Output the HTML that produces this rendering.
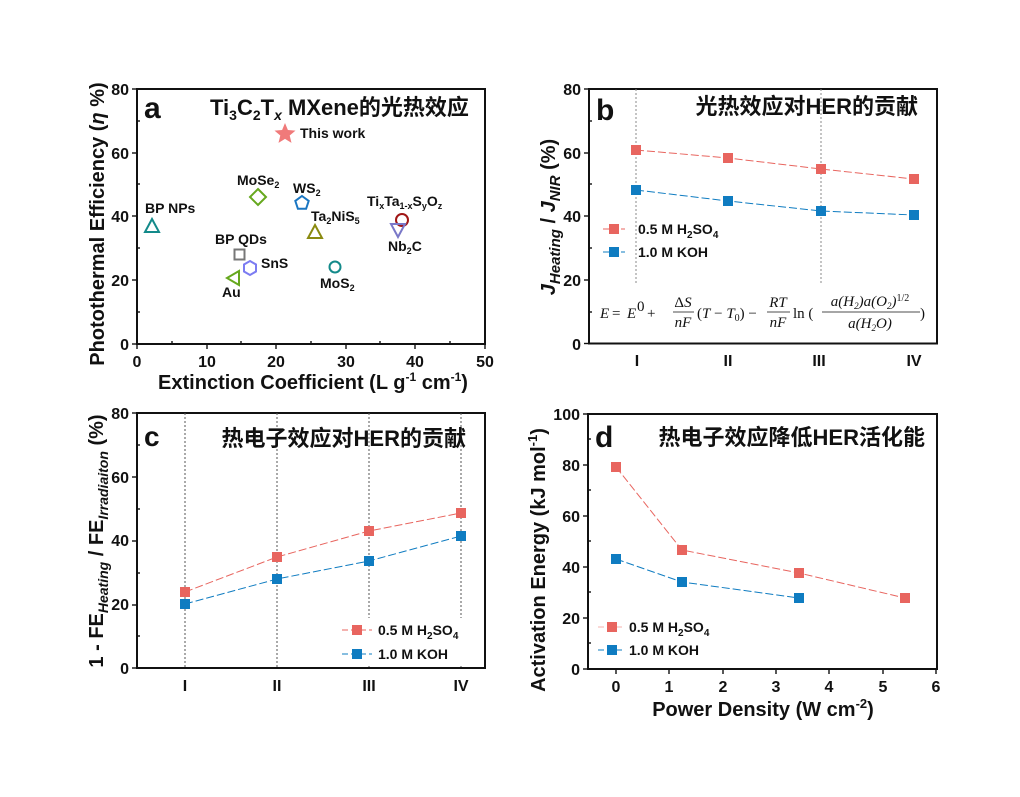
<!DOCTYPE html>
<html><head><meta charset="utf-8"><style>
html,body{margin:0;padding:0;background:#fff;}
svg{display:block;}
text{font-family:"Liberation Sans","Noto Sans CJK SC",sans-serif;font-weight:bold;fill:#111;}
.t{font-size:16px;}
.ax{font-size:20px;}
.ttl{font-size:22px;}
.lg{font-size:14px;}
.eq{font-family:"Liberation Serif",serif;font-weight:normal;font-style:italic;font-size:15px;}
.eqn{font-family:"Liberation Serif",serif;font-weight:normal;font-size:15px;}
</style></head><body>
<svg width="1020" height="797" viewBox="0 0 1020 797" xmlns="http://www.w3.org/2000/svg">
<rect width="1020" height="797" fill="#fff"/>

<!-- ================= Panel a ================= -->
<rect x="137" y="89" width="348" height="255" fill="none" stroke="#111" stroke-width="2"/>
<g stroke="#111" stroke-width="1.4">
<line x1="137" y1="344" x2="132" y2="344"/><line x1="137" y1="280" x2="132" y2="280"/><line x1="137" y1="216" x2="132" y2="216"/><line x1="137" y1="153" x2="132" y2="153"/><line x1="137" y1="89" x2="132" y2="89"/>
<line x1="137" y1="312" x2="140" y2="312"/><line x1="137" y1="248" x2="140" y2="248"/><line x1="137" y1="184" x2="140" y2="184"/><line x1="137" y1="121" x2="140" y2="121"/>
<line x1="137" y1="344" x2="137" y2="349"/><line x1="207" y1="344" x2="207" y2="349"/><line x1="276" y1="344" x2="276" y2="349"/><line x1="346" y1="344" x2="346" y2="349"/><line x1="415" y1="344" x2="415" y2="349"/><line x1="485" y1="344" x2="485" y2="349"/>
<line x1="172" y1="344" x2="172" y2="341"/><line x1="241" y1="344" x2="241" y2="341"/><line x1="311" y1="344" x2="311" y2="341"/><line x1="380" y1="344" x2="380" y2="341"/><line x1="450" y1="344" x2="450" y2="341"/>
</g>
<g class="t" text-anchor="end"><text x="129" y="350">0</text><text x="129" y="286">20</text><text x="129" y="222">40</text><text x="129" y="159">60</text><text x="129" y="95">80</text></g>
<g class="t" text-anchor="middle"><text x="137" y="367">0</text><text x="207" y="367">10</text><text x="276" y="367">20</text><text x="346" y="367">30</text><text x="415" y="367">40</text><text x="485" y="367">50</text></g>
<text class="ax" x="313" y="389" text-anchor="middle" font-size="21">Extinction Coefficient (L g<tspan dy="-8" font-size="12">-1</tspan><tspan dy="8"> cm</tspan><tspan dy="-8" font-size="12">-1</tspan><tspan dy="8">)</tspan></text>
<text class="ax" transform="translate(104,224) rotate(-90)" text-anchor="middle">Photothermal Efficiency (<tspan font-style="italic">η</tspan> %)</text>
<text x="144" y="118" font-size="30">a</text>
<text class="ttl" x="210" y="115">Ti<tspan font-size="14" dy="5">3</tspan><tspan dy="-5">C</tspan><tspan font-size="14" dy="5">2</tspan><tspan dy="-5">T</tspan><tspan font-size="14" dy="5" font-style="italic">x</tspan><tspan dy="-5"> MXene的光热效应</tspan></text>
<!-- markers -->
<polygon points="285,123 287.9,130 295.5,130.6 289.7,135.5 291.5,142.9 285,138.9 278.5,142.9 280.3,135.5 274.5,130.6 282.1,130" fill="#f07a7a"/>
<text class="lg" x="300" y="138" font-size="13">This work</text>
<polygon points="152,219 159,232 145,232" fill="none" stroke="#138a8a" stroke-width="2"/>
<text class="lg" x="145" y="213" font-size="13">BP NPs</text>
<polygon points="258,189 266,197 258,205 250,197" fill="none" stroke="#66a81e" stroke-width="2"/>
<text class="lg" x="237" y="185" font-size="13">MoSe<tspan font-size="9" dy="3">2</tspan></text>
<polygon points="302,196 308.7,200.9 306.1,208.8 297.9,208.8 295.3,200.9" fill="none" stroke="#1a76c2" stroke-width="2"/>
<text class="lg" x="293" y="193" font-size="13">WS<tspan font-size="9" dy="3">2</tspan></text>
<polygon points="315,225 322,238 308,238" fill="none" stroke="#8a8a10" stroke-width="2"/>
<text class="lg" x="311" y="221" font-size="13">Ta<tspan font-size="9" dy="3">2</tspan><tspan dy="-3">NiS</tspan><tspan font-size="9" dy="3">5</tspan></text>
<circle cx="402" cy="220" r="6" fill="none" stroke="#a01616" stroke-width="2"/>
<polygon points="391,224 405,224 398,237" fill="none" stroke="#7a78c8" stroke-width="2"/>
<text class="lg" x="367" y="206" font-size="13">Ti<tspan font-size="9" dy="3">x</tspan><tspan dy="-3">Ta</tspan><tspan font-size="9" dy="3">1-x</tspan><tspan dy="-3">S</tspan><tspan font-size="9" dy="3">y</tspan><tspan dy="-3">O</tspan><tspan font-size="9" dy="3">z</tspan></text>
<text class="lg" x="388" y="251" font-size="13">Nb<tspan font-size="9" dy="3">2</tspan><tspan dy="-3">C</tspan></text>
<rect x="234.5" y="249.5" width="10" height="10" fill="none" stroke="#777" stroke-width="2"/>
<text class="lg" x="215" y="244" font-size="13">BP QDs</text>
<polygon points="250,261 256,264.5 256,271.5 250,275 244,271.5 244,264.5" fill="none" stroke="#7c7cf2" stroke-width="2"/>
<text class="lg" x="261" y="268" font-size="13">SnS</text>
<polygon points="239,271 239,285 227,278" fill="none" stroke="#66a81e" stroke-width="2"/>
<text class="lg" x="222" y="297" font-size="13">Au</text>
<circle cx="335" cy="267" r="5.5" fill="none" stroke="#138a8a" stroke-width="2"/>
<text class="lg" x="320" y="288" font-size="13">MoS<tspan font-size="9" dy="3">2</tspan></text>

<!-- ================= Panel b ================= -->
<rect x="589" y="89" width="348" height="254.5" fill="none" stroke="#111" stroke-width="2"/>
<g stroke="#888" stroke-width="1" stroke-dasharray="2,2"><line x1="636" y1="89" x2="636" y2="283"/><line x1="821" y1="89" x2="821" y2="283"/></g>
<g stroke="#111" stroke-width="1.4">
<line x1="589" y1="343.5" x2="584" y2="343.5"/><line x1="589" y1="280" x2="584" y2="280"/><line x1="589" y1="216" x2="584" y2="216"/><line x1="589" y1="153" x2="584" y2="153"/><line x1="589" y1="89" x2="584" y2="89"/>
<line x1="589" y1="312" x2="592" y2="312"/><line x1="589" y1="248" x2="592" y2="248"/><line x1="589" y1="184" x2="592" y2="184"/><line x1="589" y1="121" x2="592" y2="121"/>
</g>
<g class="t" text-anchor="end"><text x="581" y="350">0</text><text x="581" y="286">20</text><text x="581" y="222">40</text><text x="581" y="159">60</text><text x="581" y="95">80</text></g>
<g class="t" text-anchor="middle"><text x="637" y="366">I</text><text x="728" y="366">II</text><text x="819" y="366">III</text><text x="914" y="366">IV</text></g>
<text class="ax" transform="translate(555,217) rotate(-90)" text-anchor="middle" font-size="22"><tspan font-style="italic">J</tspan><tspan font-style="italic" font-size="15" dy="5">Heating</tspan><tspan dy="-5"> / </tspan><tspan font-style="italic">J</tspan><tspan font-style="italic" font-size="15" dy="5">NIR</tspan><tspan dy="-5"> (%)</tspan></text>
<text x="596" y="120" font-size="30">b</text>
<text class="ttl" x="918" y="114" text-anchor="end" font-weight="normal">光热效应对<tspan font-weight="bold">HER</tspan>的贡献</text>
<polyline points="636,150 728,158 821,169 914,179" fill="none" stroke="#e8655f" stroke-width="1" stroke-dasharray="8,3"/>
<polyline points="636,190 728,201 821,211 914,215" fill="none" stroke="#0f7cc1" stroke-width="1" stroke-dasharray="8,3"/>
<g fill="#e8655f"><rect x="631" y="145" width="10" height="10"/><rect x="723" y="153" width="10" height="10"/><rect x="816" y="164" width="10" height="10"/><rect x="909" y="174" width="10" height="10"/></g>
<g fill="#0f7cc1"><rect x="631" y="185" width="10" height="10"/><rect x="723" y="196" width="10" height="10"/><rect x="816" y="206" width="10" height="10"/><rect x="909" y="210" width="10" height="10"/></g>
<line x1="603" y1="229" x2="625" y2="229" stroke="#e8655f" stroke-dasharray="6,3"/><rect x="609" y="224" width="10" height="10" fill="#e8655f"/>
<line x1="603" y1="252" x2="625" y2="252" stroke="#0f7cc1" stroke-dasharray="6,3"/><rect x="609" y="247" width="10" height="10" fill="#0f7cc1"/>
<text class="lg" x="638" y="234" font-size="15">0.5 M H<tspan font-size="10" dy="4">2</tspan><tspan dy="-4">SO</tspan><tspan font-size="10" dy="4">4</tspan></text>
<text class="lg" x="638" y="257" font-size="15">1.0 M KOH</text>
<!-- equation -->
<text class="eq" x="600" y="318">E</text><text class="eqn" x="612" y="318">=</text><text class="eq" x="627" y="318">E</text><text class="eqn" x="637" y="311" font-size="10">0</text><text class="eqn" x="647" y="318">+</text>
<text class="eqn" x="683" y="307" text-anchor="middle">Δ<tspan font-style="italic">S</tspan></text><line x1="673" y1="312" x2="694" y2="312" stroke="#111" stroke-width="0.8"/><text class="eq" x="683" y="327" text-anchor="middle">nF</text>
<text class="eqn" x="697" y="318">(<tspan font-style="italic">T</tspan>  − <tspan font-style="italic">T</tspan><tspan font-size="10" dy="3">0</tspan><tspan dy="-3">) −</tspan></text>
<text class="eq" x="778" y="307" text-anchor="middle">RT</text><line x1="767" y1="312" x2="790" y2="312" stroke="#111" stroke-width="0.8"/><text class="eq" x="778" y="327" text-anchor="middle">nF</text>
<text class="eqn" x="793" y="318">ln (</text>
<text class="eq" x="870" y="306" text-anchor="middle" font-size="14">a(H<tspan font-size="9" dy="3">2</tspan><tspan dy="-3">)a(O</tspan><tspan font-size="9" dy="3">2</tspan><tspan dy="-3">)</tspan><tspan font-size="10" dy="-5" font-style="normal">1/2</tspan></text>
<line x1="822" y1="312" x2="920" y2="312" stroke="#111" stroke-width="0.8"/>
<text class="eq" x="870" y="328" text-anchor="middle" font-size="14">a(H<tspan font-size="9" dy="3">2</tspan><tspan dy="-3">O)</tspan></text>
<text class="eqn" x="920" y="318">)</text>

<!-- ================= Panel c ================= -->
<rect x="137" y="413" width="348" height="255" fill="none" stroke="#111" stroke-width="2"/>
<g stroke="#555" stroke-width="1" stroke-dasharray="2,2"><line x1="185" y1="413" x2="185" y2="668"/><line x1="277" y1="413" x2="277" y2="668"/><line x1="369" y1="413" x2="369" y2="668"/><line x1="461" y1="413" x2="461" y2="668"/></g>
<g stroke="#111" stroke-width="1.4">
<line x1="137" y1="668" x2="132" y2="668"/><line x1="137" y1="605" x2="132" y2="605"/><line x1="137" y1="541" x2="132" y2="541"/><line x1="137" y1="477" x2="132" y2="477"/><line x1="137" y1="413" x2="132" y2="413"/>
<line x1="137" y1="636" x2="140" y2="636"/><line x1="137" y1="573" x2="140" y2="573"/><line x1="137" y1="509" x2="140" y2="509"/><line x1="137" y1="445" x2="140" y2="445"/>
</g>
<g class="t" text-anchor="end"><text x="129" y="674">0</text><text x="129" y="610">20</text><text x="129" y="546">40</text><text x="129" y="483">60</text><text x="129" y="419">80</text></g>
<g class="t" text-anchor="middle"><text x="185" y="691">I</text><text x="277" y="691">II</text><text x="369" y="691">III</text><text x="461" y="691">IV</text></g>
<text class="ax" transform="translate(103,541) rotate(-90)" text-anchor="middle" font-size="20">1 - FE<tspan font-style="italic" font-size="14" dy="5">Heating</tspan><tspan dy="-5"> / FE</tspan><tspan font-style="italic" font-size="14" dy="5">Irradiaiton</tspan><tspan dy="-5"> (%)</tspan></text>
<text x="144" y="446" font-size="28">c</text>
<text class="ttl" x="466" y="446" text-anchor="end" font-weight="normal">热电子效应对<tspan font-weight="bold">HER</tspan>的贡献</text>
<polyline points="185,592 277,557 369,531 461,513" fill="none" stroke="#e8655f" stroke-width="1" stroke-dasharray="8,3"/>
<polyline points="185,604 277,579 369,561 461,536" fill="none" stroke="#0f7cc1" stroke-width="1" stroke-dasharray="8,3"/>
<g fill="#e8655f"><rect x="180" y="587" width="10" height="10"/><rect x="272" y="552" width="10" height="10"/><rect x="364" y="526" width="10" height="10"/><rect x="456" y="508" width="10" height="10"/></g>
<g fill="#0f7cc1"><rect x="180" y="599" width="10" height="10"/><rect x="272" y="574" width="10" height="10"/><rect x="364" y="556" width="10" height="10"/><rect x="456" y="531" width="10" height="10"/></g>
<rect x="340" y="618" width="130" height="48" fill="#fff"/>
<line x1="342" y1="630" x2="372" y2="630" stroke="#e8655f" stroke-dasharray="6,3"/><rect x="352" y="625" width="10" height="10" fill="#e8655f"/>
<line x1="342" y1="654" x2="372" y2="654" stroke="#0f7cc1" stroke-dasharray="6,3"/><rect x="352" y="649" width="10" height="10" fill="#0f7cc1"/>
<text class="lg" x="378" y="635" font-size="15">0.5 M H<tspan font-size="10" dy="4">2</tspan><tspan dy="-4">SO</tspan><tspan font-size="10" dy="4">4</tspan></text>
<text class="lg" x="378" y="659" font-size="15">1.0 M KOH</text>

<!-- ================= Panel d ================= -->
<rect x="588" y="414" width="349" height="255" fill="none" stroke="#111" stroke-width="2"/>
<g stroke="#111" stroke-width="1.4">
<line x1="588" y1="669" x2="583" y2="669"/><line x1="588" y1="618" x2="583" y2="618"/><line x1="588" y1="567" x2="583" y2="567"/><line x1="588" y1="516" x2="583" y2="516"/><line x1="588" y1="465" x2="583" y2="465"/><line x1="588" y1="414" x2="583" y2="414"/>
<line x1="588" y1="643" x2="591" y2="643"/><line x1="588" y1="592" x2="591" y2="592"/><line x1="588" y1="541" x2="591" y2="541"/><line x1="588" y1="490" x2="591" y2="490"/><line x1="588" y1="439" x2="591" y2="439"/>
<line x1="616" y1="669" x2="616" y2="674"/><line x1="669" y1="669" x2="669" y2="674"/><line x1="723" y1="669" x2="723" y2="674"/><line x1="776" y1="669" x2="776" y2="674"/><line x1="829" y1="669" x2="829" y2="674"/><line x1="883" y1="669" x2="883" y2="674"/><line x1="936" y1="669" x2="936" y2="674"/>
</g>
<g class="t" text-anchor="end"><text x="580" y="675">0</text><text x="580" y="624">20</text><text x="580" y="573">40</text><text x="580" y="522">60</text><text x="580" y="471">80</text><text x="580" y="420">100</text></g>
<g class="t" text-anchor="middle"><text x="616" y="692">0</text><text x="669" y="692">1</text><text x="723" y="692">2</text><text x="776" y="692">3</text><text x="829" y="692">4</text><text x="883" y="692">5</text><text x="936" y="692">6</text></g>
<text class="ax" x="763" y="716" text-anchor="middle" font-size="22">Power Density (W cm<tspan dy="-8" font-size="13">-2</tspan><tspan dy="8">)</tspan></text>
<text class="ax" transform="translate(545,560) rotate(-90)" text-anchor="middle" font-size="22">Activation Energy (kJ mol<tspan dy="-8" font-size="13">-1</tspan><tspan dy="8">)</tspan></text>
<text x="595" y="447" font-size="30">d</text>
<text class="ttl" x="925" y="445" text-anchor="end" font-weight="normal">热电子效应降低<tspan font-weight="bold">HER</tspan>活化能</text>
<polyline points="616,467 682,550 799,573 905,598" fill="none" stroke="#e8655f" stroke-width="1" stroke-dasharray="8,3"/>
<polyline points="616,559 682,582 799,598" fill="none" stroke="#0f7cc1" stroke-width="1" stroke-dasharray="8,3"/>
<g fill="#e8655f"><rect x="611" y="462" width="10" height="10"/><rect x="677" y="545" width="10" height="10"/><rect x="794" y="568" width="10" height="10"/><rect x="900" y="593" width="10" height="10"/></g>
<g fill="#0f7cc1"><rect x="611" y="554" width="10" height="10"/><rect x="677" y="577" width="10" height="10"/><rect x="794" y="593" width="10" height="10"/></g>
<line x1="598" y1="627" x2="624" y2="627" stroke="#f4b0ad" stroke-dasharray="6,3"/><rect x="607" y="622" width="10" height="10" fill="#e8655f"/>
<line x1="598" y1="650" x2="624" y2="650" stroke="#0f7cc1" stroke-dasharray="6,3"/><rect x="607" y="645" width="10" height="10" fill="#0f7cc1"/>
<text class="lg" x="629" y="632" font-size="15">0.5 M H<tspan font-size="10" dy="4">2</tspan><tspan dy="-4">SO</tspan><tspan font-size="10" dy="4">4</tspan></text>
<text class="lg" x="629" y="655" font-size="15">1.0 M KOH</text>
</svg>
</body></html>
